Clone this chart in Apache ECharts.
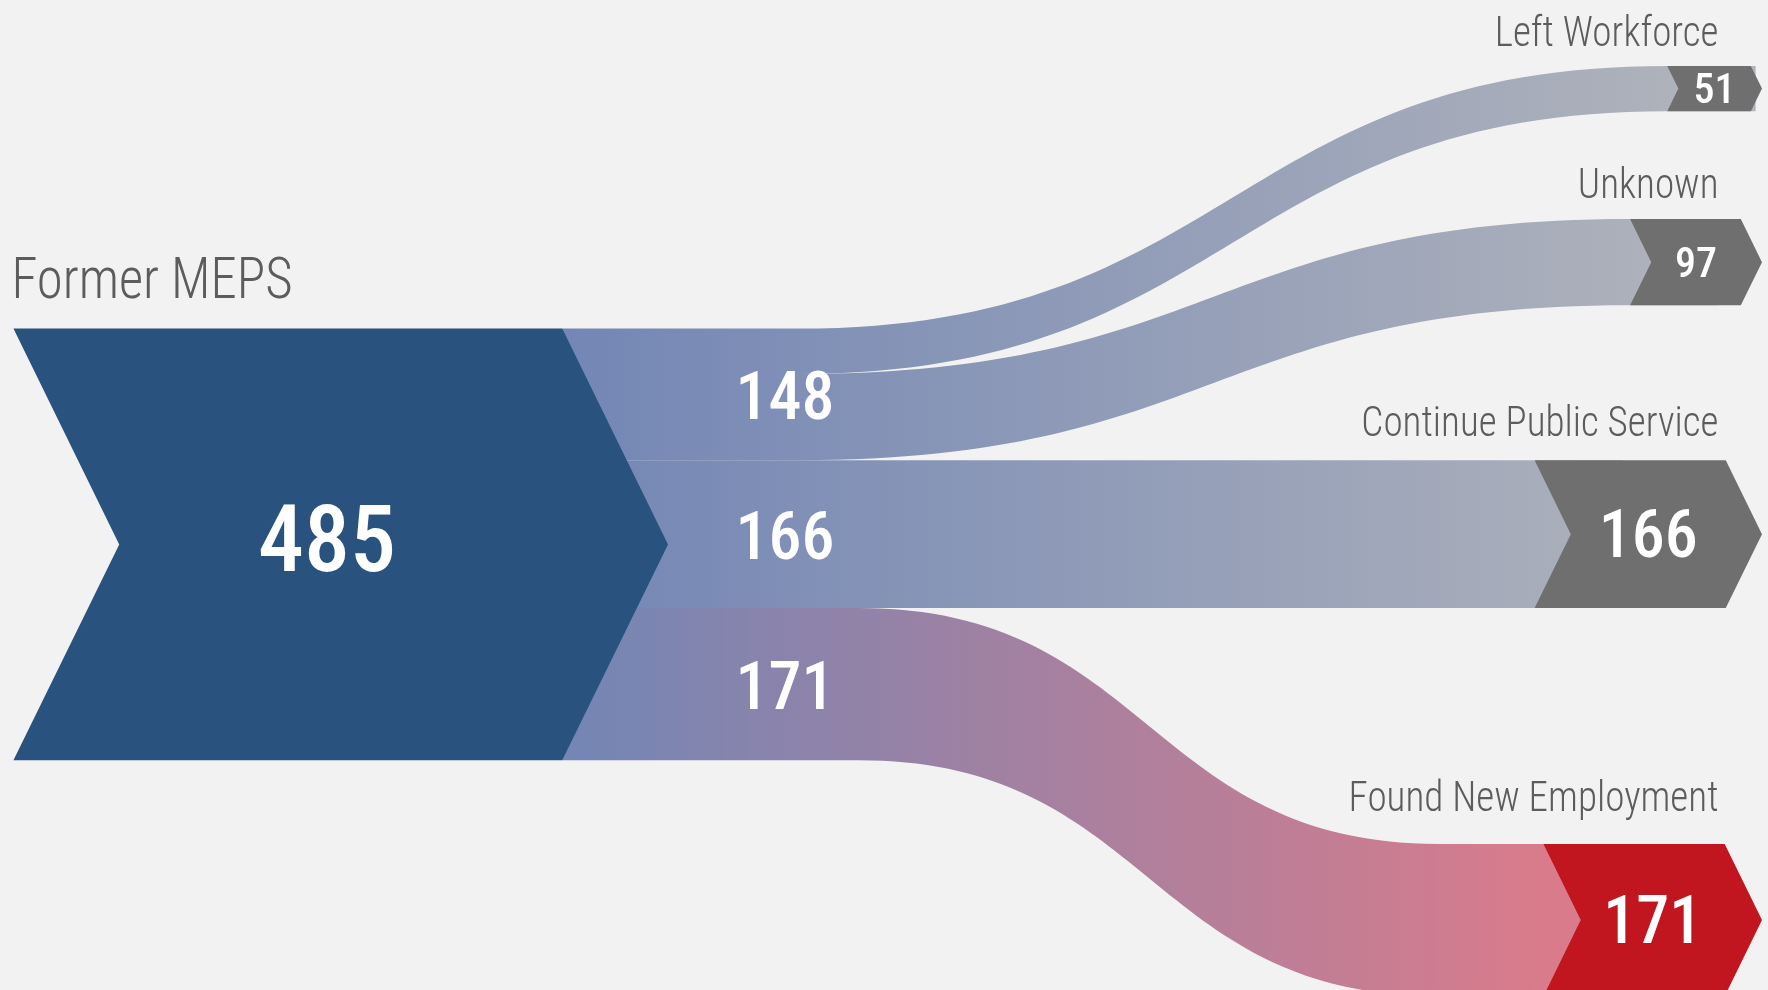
<!DOCTYPE html>
<html>
<head>
<meta charset="utf-8">
<title>Former MEPS</title>
<script src="https://cdn.jsdelivr.net/npm/echarts@6/dist/echarts.min.js"></script>
<style>
html, body { margin: 0; padding: 0; background: #f2f2f2; }
#chart { width: 1768px; height: 990px; }
</style>
</head>
<body>
<div id="chart"></div>
<script>
// data
const sourceName = 'Former MEPS';
const sourceTotal = 485;
const targetNames = ['Left Workforce', 'Unknown', 'Continue Public Service', 'Found New Employment'];
const targetValues = [51, 97, 166, 171];
const bandValues = [148, 166, 171];       // numbers written on the outgoing bands
const bandTargets = [[0, 1], [2], [3]];   // targets fed by each band

// layout: x axis runs 0..100 across the page, y axis counts people from the top
const Y_MAX = 1112;
const srcTop = 369;
const srcX = [0.76, 31.8];                  // left edge, top-right corner
const srcLabelX = 18.5;
const bandLabelX = 44.4;
const targetTop = [74, 246, null, 948];     // null: stays level with the source
const curveX = [[45.2, 94.3], [45.2, 92.2], null, [48.6, 81.4]];
const targetX = [94.3, 92.2, 86.8, 87.3];   // chevron left edge
const gradEndX = [96, 96, 96, 87.3];
const pointX = 99.66;
const nameX = 97.2;
const nameGap = [9, 10, 14, 22];            // px between a name and its chevron
const targetFont = [42, 42, 66, 66];
const SLANT = 0.49;

const FONT = "'Liberation Sans Narrow', 'Roboto Condensed', 'DejaVu Sans Condensed', 'Arial Narrow', sans-serif";
const linkStart = '#7386b5';
const linkEnd = ['#b0b3bb', '#b0b3bb', '#b0b3bb', '#d97b8b'];
const targetColors = ['#6f6f6f', '#6f6f6f', '#6f6f6f', '#c1151f'];

const srcY = [];
targetValues.reduce((acc, v, i) => { srcY[i] = acc; return acc + v; }, srcTop);
const tgtY = targetTop.map((t, i) => t == null ? srcY[i] : t);

function renderLink(params, api) {
  const i = api.value(0), v = api.value(1);
  const c = curveX[i] || [50, 60];
  const P = (x, y) => api.coord([x, y]);
  const xe = targetX[i] + 5;
  const a0 = P(srcX[1], srcY[i]), b0 = P(c[0], srcY[i]), d0 = P(c[1], tgtY[i]), e0 = P(xe, tgtY[i]);
  const a1 = P(srcX[1], srcY[i] + v), b1 = P(c[0], srcY[i] + v), d1 = P(c[1], tgtY[i] + v), e1 = P(xe, tgtY[i] + v);
  const m = (b0[0] + d0[0]) / 2;
  const path = 'M' + a0 + ' L' + b0 +
    ' C' + m + ',' + b0[1] + ' ' + m + ',' + d0[1] + ' ' + d0 +
    ' L' + e0 + ' L' + e1 + ' L' + d1 +
    ' C' + m + ',' + d1[1] + ' ' + m + ',' + b1[1] + ' ' + b1 +
    ' L' + a1 + ' Z';
  const g0 = P(srcX[1], 0)[0], g1 = P(gradEndX[i], 0)[0];
  return {
    type: 'path',
    shape: { pathData: path },
    style: {
      fill: new echarts.graphic.LinearGradient(g0, 0, g1, 0, [
        { offset: 0, color: linkStart },
        { offset: 1, color: linkEnd[i] }
      ], true)
    }
  };
}

function chevron(tl, br) {
  const h = br[1] - tl[1], s = SLANT * h / 2, ym = tl[1] + h / 2;
  return {
    s: s, ym: ym,
    points: [[tl[0], tl[1]], [br[0] - s, tl[1]], [br[0], ym], [br[0] - s, br[1]], [tl[0], br[1]], [tl[0] + s, ym]]
  };
}

function numText(x, y, v, size) {
  return {
    type: 'text', x: x, y: y + size * 0.1,
    style: { text: String(v), fill: '#fff', fontSize: size, fontWeight: 500, fontFamily: FONT, align: 'center', verticalAlign: 'middle' }
  };
}

function nameText(x, y, text, size, align) {
  return {
    type: 'text', x: x, y: y, scaleX: 0.91,
    style: { text: text, fill: '#5c5c5c', fontSize: size, fontWeight: 300, fontFamily: FONT, align: align, verticalAlign: 'bottom' }
  };
}

function renderSource(params, api) {
  const v = api.value(0);
  const tl = api.coord([srcX[0], srcTop]);
  const tr = api.coord([srcX[1], srcTop + v]);
  const s = SLANT * (tr[1] - tl[1]) / 2;
  const br = [tr[0] + s, tr[1]];
  const ch = chevron(tl, br);
  const lab = api.coord([srcLabelX, srcTop]);
  return {
    type: 'group',
    children: [
      { type: 'polygon', shape: { points: ch.points }, style: { fill: '#29527f' } },
      numText(lab[0], ch.ym - 6, v, 92),
      nameText(tl[0] - 2, tl[1] - 16, sourceName, 58, 'left')
    ]
  };
}

function renderTarget(params, api) {
  const i = api.value(0), v = api.value(1);
  const tl = api.coord([targetX[i], tgtY[i]]);
  const br = api.coord([pointX, tgtY[i] + v]);
  const ch = chevron(tl, br);
  const name = api.coord([nameX, tgtY[i]]);
  return {
    type: 'group',
    children: [
      { type: 'polygon', shape: { points: ch.points }, style: { fill: targetColors[i] } },
      numText((tl[0] + br[0]) / 2, ch.ym, v, targetFont[i]),
      nameText(name[0], name[1] - nameGap[i], targetNames[i], 43, 'right')
    ]
  };
}

function renderBand(params, api) {
  const k = api.value(0), v = api.value(1);
  const ids = bandTargets[k];
  const y0 = srcY[ids[0]];
  const y1 = srcY[ids[ids.length - 1]] + targetValues[ids[ids.length - 1]];
  const p = api.coord([bandLabelX, (y0 + y1) / 2]);
  return numText(p[0], p[1] + 2, v, 66);
}

const chart = echarts.init(document.getElementById('chart'));
chart.setOption({
  backgroundColor: '#f2f2f2',
  animation: false,
  grid: { left: 0, right: 0, top: 0, bottom: 0 },
  xAxis: { type: 'value', min: 0, max: 100, show: false },
  yAxis: { type: 'value', min: 0, max: Y_MAX, inverse: true, show: false },
  series: [
    { type: 'custom', z: 1, silent: true, renderItem: renderLink, data: targetValues.map((v, i) => [i, v]) },
    { type: 'custom', z: 2, silent: true, renderItem: renderSource, data: [[sourceTotal]] },
    { type: 'custom', z: 2, silent: true, renderItem: renderTarget, data: targetValues.map((v, i) => [i, v]) },
    { type: 'custom', z: 3, silent: true, renderItem: renderBand, data: bandValues.map((v, k) => [k, v]) }
  ]
});
</script>
</body>
</html>
